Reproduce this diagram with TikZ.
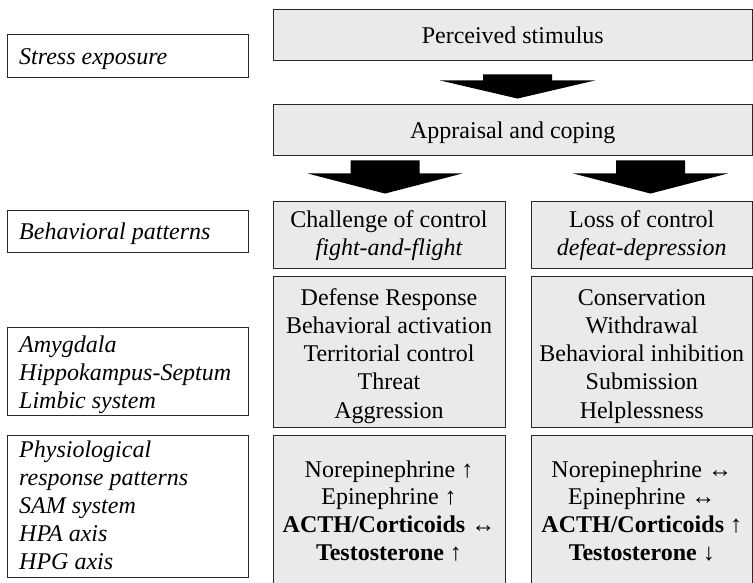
\documentclass[tikz,border=0pt]{standalone}
\usepackage{fontspec}
\setmainfont{Liberation Serif}
\usetikzlibrary{calc}
\definecolor{boxgray}{RGB}{234,234,234}
\definecolor{edgecol}{RGB}{40,40,40}
\newcommand\blockarrow[3]{%
  \fill[black] ($(#1)+(-34.5,0)$) -- ($(#1)+(34.5,0)$) -- ($(#1)+(34.5,#3)$) --
    ($(#1)+(77.5,#3)$) -- (#2) -- ($(#1)+(-77.5,#3)$) -- ($(#1)+(-34.5,#3)$) -- cycle;}
\begin{document}
\begin{tikzpicture}[x=1pt,y=-1pt,
  wbox/.style={draw=edgecol,line width=0.9pt,fill=white,inner sep=0pt,rectangle},
  gbox/.style={draw=edgecol,line width=0.9pt,fill=boxgray,inner sep=0pt,rectangle},
  txt/.style={inner sep=0pt,anchor=base,font=\fontsize{24}{28}\selectfont},
  ltxt/.style={inner sep=0pt,anchor=base west,font=\fontsize{24}{28}\selectfont\itshape}]
\useasboundingbox (0,0) rectangle (753,582);
% left column boxes
\node[wbox,minimum width=241pt,minimum height=43pt] (stress) at (127.5,55.5) {};
\node[wbox,minimum width=241pt,minimum height=42pt] (behav) at (127.5,231) {};
\node[wbox,minimum width=241pt,minimum height=88pt] (amyg) at (127.5,371) {};
\node[wbox,minimum width=241pt,minimum height=142pt] (phys) at (127.5,506) {};
% main boxes
\node[gbox,minimum width=479.5pt,minimum height=51pt] (perc) at (512.75,34.5) {};
\node[gbox,minimum width=479.5pt,minimum height=51pt] (appr) at (512.75,129.5) {};
\node[gbox,minimum width=232pt,minimum height=67pt] (chal) at (389,234.5) {};
\node[gbox,minimum width=221.5pt,minimum height=67pt] (loss) at (641.75,234.5) {};
\node[gbox,minimum width=232pt,minimum height=151pt] (def) at (389,351.5) {};
\node[gbox,minimum width=221.5pt,minimum height=151pt] (cons) at (641.75,351.5) {};
\node[gbox,minimum width=232pt,minimum height=155pt] (hormL) at (389,512.5) {};
\node[gbox,minimum width=221.5pt,minimum height=155pt] (hormR) at (641.75,512.5) {};
% block arrows
\coordinate (a1s) at ($(perc.south)+(4.75,14)$);
\coordinate (a1t) at ($(appr.north)+(4.75,-5)$);
\blockarrow{a1s}{a1t}{6}
\coordinate (aLs) at ($(chal.north |- appr.south)+(-4,5)$);
\coordinate (aLt) at ($(chal.north)+(-4,-7)$);
\blockarrow{aLs}{aLt}{13}
\coordinate (aRs) at ($(loss.north |- appr.south)+(8.75,5)$);
\coordinate (aRt) at ($(loss.north)+(8.75,-7)$);
\blockarrow{aRs}{aRt}{13}
% left column texts
\node[ltxt] (stresst) at (19,64) {Stress exposure};
\node[ltxt] (behavt) at (19,239) {Behavioral patterns};
\foreach \t [count=\i] in {Amygdala,Hippokampus-Septum,Limbic system}
  \node[ltxt] (am\i) at (19,{352+28*(\i-1)}) {\t};
\foreach \t [count=\i] in {Physiological,response patterns,SAM system,HPA axis,HPG axis}
  \node[ltxt] (ph\i) at (19,{457.5+28*(\i-1)}) {\t};
% main texts
\node[txt] (perct) at (512.75,43) {Perceived stimulus};
\node[txt] (apprt) at (512.75,138) {Appraisal and coping};
\node[txt] (chal1) at (389,227) {Challenge of control};
\node[txt] (chal2) at (389,255) {\itshape fight-and-flight};
\node[txt] (loss1) at (641.75,227) {Loss of control};
\node[txt] (loss2) at (641.75,255) {\itshape defeat-depression};
\foreach \t [count=\i] in {Defense Response,Behavioral activation,Territorial control,Threat,Aggression}
  \node[txt] (def\i) at (389,{305+28.25*(\i-1)}) {\t};
\foreach \t [count=\i] in {Conservation,Withdrawal,Behavioral inhibition,Submission,Helplessness}
  \node[txt] (cons\i) at (641.75,{305+28.25*(\i-1)}) {\t};
\foreach \t [count=\i] in {{Norepinephrine ↑},{Epinephrine ↑},{\textbf{ACTH/Corticoids} ↔},{\textbf{Testosterone} ↑}}
  \node[txt] (hl\i) at (389,{477+27.7*(\i-1)}) {\t};
\foreach \t [count=\i] in {{Norepinephrine ↔},{Epinephrine ↔},{\textbf{ACTH/Corticoids} ↑},{\textbf{Testosterone} ↓}}
  \node[txt] (hr\i) at (641.75,{477+27.7*(\i-1)}) {\t};
\end{tikzpicture}
\end{document}
